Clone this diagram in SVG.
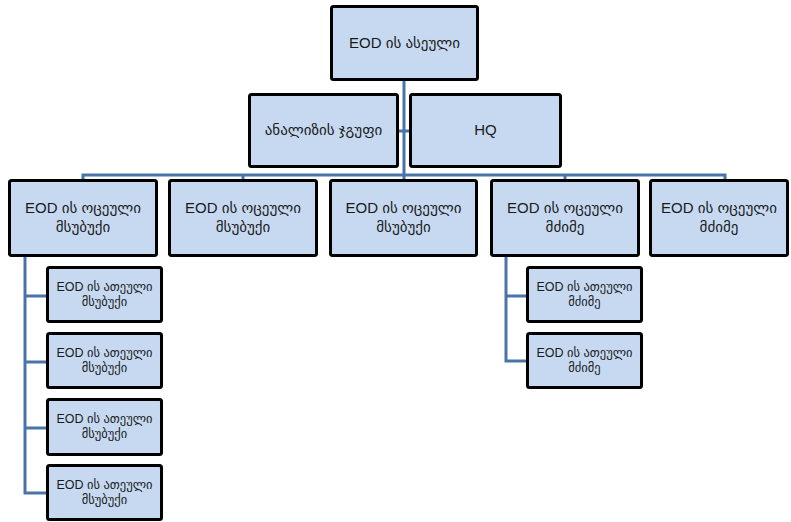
<svg xmlns="http://www.w3.org/2000/svg" width="791" height="522" viewBox="0 0 791 522">
<style>
.box{fill:#c6d9f1;stroke:#000;stroke-width:3;}
.t{font-family:"Liberation Sans","DejaVu Sans",sans-serif;font-size:15px;fill:#1a1a1a;text-anchor:middle;}
.s{font-family:"Liberation Sans","DejaVu Sans",sans-serif;font-size:12.5px;fill:#1a1a1a;text-anchor:middle;}
.c{fill:none;stroke:#4a74a8;stroke-width:3;}
</style>
<rect width="791" height="522" fill="#fff"/>
<g id="connectors">
<path class="c" d="M404 81V175M83 179V175H725V179M243 175V179M404 175V179M565 175V179"/>
<path class="c" d="M399 131H409" stroke-width="2"/>
<path class="c" d="M25 257V493H46M25 296H46M25 362H46M25 428H46"/>
<path class="c" d="M506 257V361H526M506 296H526"/>
</g>
<g id="n-top"><rect class="box" x="331.5" y="6.5" width="146" height="73" rx="2"/><text class="t" x="404.5" y="48">EOD ის ასეული</text></g>
<g id="n-analysis"><rect class="box" x="249.5" y="94.5" width="148" height="72" rx="2"/><text class="t" x="323.5" y="135">ანალიზის ჯგუფი</text></g>
<g id="n-hq"><rect class="box" x="410.5" y="94.5" width="150" height="72" rx="2"/><text class="t" x="485.5" y="135">HQ</text></g>
<g id="n-p1"><rect class="box" x="9.5" y="180.5" width="147" height="75" rx="2"/><text class="t" x="83" y="213">EOD ის ოცეული</text><text class="t" x="83" y="232">მსუბუქი</text></g>
<g id="n-p2"><rect class="box" x="169.5" y="180.5" width="147" height="75" rx="2"/><text class="t" x="243" y="213">EOD ის ოცეული</text><text class="t" x="243" y="232">მსუბუქი</text></g>
<g id="n-p3"><rect class="box" x="330.5" y="180.5" width="146" height="75" rx="2"/><text class="t" x="403.5" y="213">EOD ის ოცეული</text><text class="t" x="403.5" y="232">მსუბუქი</text></g>
<g id="n-p4"><rect class="box" x="491.5" y="180.5" width="147" height="75" rx="2"/><text class="t" x="565" y="213">EOD ის ოცეული</text><text class="t" x="565" y="232">მძიმე</text></g>
<g id="n-p5"><rect class="box" x="650.5" y="180.5" width="137" height="75" rx="2"/><text class="t" x="719" y="213">EOD ის ოცეული</text><text class="t" x="719" y="232">მძიმე</text></g>
<g id="n-s1"><rect class="box" x="47.5" y="267.5" width="114" height="54" rx="2"/><text class="s" x="104.5" y="291">EOD ის ათეული</text><text class="s" x="104.5" y="306">მსუბუქი</text></g>
<g id="n-s2"><rect class="box" x="47.5" y="333.5" width="114" height="54" rx="2"/><text class="s" x="104.5" y="357">EOD ის ათეული</text><text class="s" x="104.5" y="372">მსუბუქი</text></g>
<g id="n-s3"><rect class="box" x="47.5" y="399.5" width="114" height="55" rx="2"/><text class="s" x="104.5" y="423">EOD ის ათეული</text><text class="s" x="104.5" y="438">მსუბუქი</text></g>
<g id="n-s4"><rect class="box" x="47.5" y="465.5" width="114" height="54" rx="2"/><text class="s" x="104.5" y="489">EOD ის ათეული</text><text class="s" x="104.5" y="504">მსუბუქი</text></g>
<g id="n-h1"><rect class="box" x="527.5" y="267.5" width="114" height="54" rx="2"/><text class="s" x="584.5" y="291">EOD ის ათეული</text><text class="s" x="584.5" y="306">მძიმე</text></g>
<g id="n-h2"><rect class="box" x="527.5" y="333.5" width="114" height="54" rx="2"/><text class="s" x="584.5" y="357">EOD ის ათეული</text><text class="s" x="584.5" y="372">მძიმე</text></g>
</svg>
